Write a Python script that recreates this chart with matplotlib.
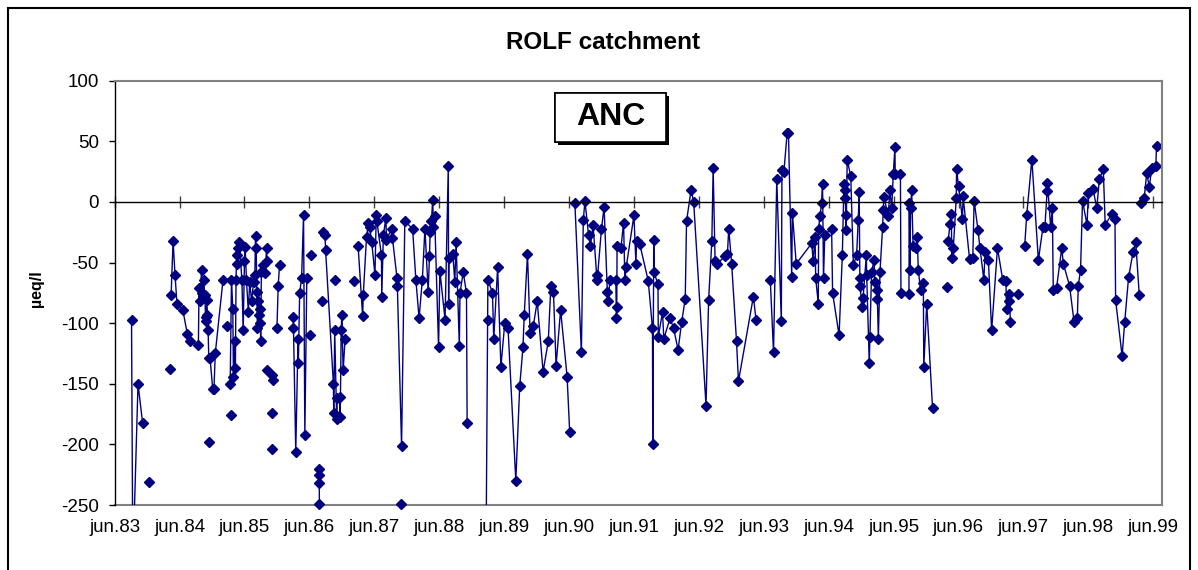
import numpy as np
import matplotlib.pyplot as plt
import matplotlib.patheffects as pe
from matplotlib.patches import Rectangle

plt.rcParams['font.family'] = ['Liberation Sans', 'DejaVu Sans']
plt.rcParams['axes.unicode_minus'] = False

# ANC in µeq/l, x = years after June 1983, gaps between segments
seg_a = [(0.26, -97), (0.28, -300), (0.36, -150), (0.43, -182)]
seg_b = [(0.87, -77), (0.90, -32), (0.93, -60), (0.96, -84), (1.05, -89), (1.12, -109),
         (1.16, -115), (1.29, -118), (1.30, -71), (1.31, -82), (1.34, -56), (1.35, -75),
         (1.37, -64), (1.39, -77), (1.40, -95), (1.41, -98), (1.42, -81), (1.43, -93),
         (1.44, -106), (1.45, -129), (1.47, -129), (1.51, -154), (1.53, -154), (1.55, -125),
         (1.67, -64)]
seg_c = [(1.78, -150), (1.80, -64), (1.82, -88), (1.83, -144), (1.85, -115), (1.86, -137),
         (1.87, -64), (1.88, -44), (1.89, -51), (1.90, -38), (1.92, -33), (1.96, -64),
         (1.98, -106), (2.00, -49), (2.01, -37), (2.03, -64), (2.06, -91), (2.08, -66),
         (2.11, -82), (2.14, -66), (2.16, -60), (2.17, -28), (2.18, -38), (2.19, -74),
         (2.20, -104), (2.21, -82), (2.22, -93), (2.24, -88), (2.245, -100), (2.25, -115),
         (2.26, -58), (2.29, -52), (2.32, -59), (2.34, -38), (2.35, -49)]
seg_d = [(2.34, -139), (2.42, -143), (2.44, -147)]
seg_e = [(2.50, -104), (2.52, -69), (2.54, -52)]
seg_f = [(2.75, -95), (2.755, -104), (2.79, -206), (2.825, -113), (2.83, -133), (2.85, -75),
         (2.88, -63), (2.91, -11), (2.93, -192), (2.96, -63)]
seg_g = [(3.148, -220), (3.15, -225), (3.152, -232), (3.154, -249)]
seg_h = [(3.21, -25), (3.24, -27), (3.25, -40), (3.37, -150), (3.375, -174), (3.39, -106),
         (3.42, -179), (3.43, -162), (3.47, -161), (3.475, -177), (3.49, -106), (3.50, -93),
         (3.52, -139), (3.55, -113)]
seg_i = [(3.75, -36), (3.82, -94), (3.83, -77), (3.88, -29), (3.91, -17), (3.93, -21),
         (3.96, -33), (4.01, -60), (4.03, -11), (4.04, -16), (4.11, -44), (4.115, -78),
         (4.14, -27), (4.18, -13), (4.185, -31), (4.27, -22), (4.28, -30), (4.35, -63),
         (4.355, -69), (4.42, -201), (4.47, -16), (4.59, -22), (4.64, -64), (4.69, -96),
         (4.74, -64), (4.78, -22), (4.83, -74), (4.85, -45), (4.86, -25), (4.88, -16),
         (4.90, 2), (4.91, -21), (4.93, -12), (4.99, -120), (5.01, -57), (5.09, -97),
         (5.14, 30), (5.145, -84), (5.15, -46), (5.21, -43), (5.24, -66), (5.26, -33),
         (5.31, -119), (5.32, -75), (5.37, -58), (5.42, -75), (5.43, -182)]
seg_j = [(5.72, -300), (5.745, -97), (5.75, -64), (5.82, -75), (5.84, -113), (5.90, -54),
         (5.95, -136), (6.01, -100), (6.06, -104), (6.18, -230), (6.24, -152), (6.29, -120),
         (6.31, -93), (6.36, -43), (6.40, -108), (6.45, -102), (6.51, -82), (6.60, -140),
         (6.68, -115), (6.72, -69), (6.76, -74), (6.80, -135), (6.87, -89), (6.97, -144),
         (7.01, -190)]
seg_k = [(7.09, -1), (7.19, -124), (7.22, -15), (7.245, 1), (7.30, -27), (7.33, -36),
         (7.37, -19), (7.425, -60), (7.435, -64), (7.50, -22), (7.54, -4), (7.59, -74),
         (7.605, -82), (7.63, -64), (7.72, -64), (7.73, -96), (7.735, -87), (7.74, -36),
         (7.80, -38), (7.84, -17), (7.86, -64), (7.88, -54), (8.00, -11), (8.03, -51),
         (8.04, -32), (8.09, -35), (8.22, -65), (8.285, -104), (8.29, -200), (8.305, -31),
         (8.31, -58), (8.37, -68), (8.375, -111), (8.44, -91), (8.46, -113), (8.555, -96),
         (8.61, -104), (8.68, -122), (8.735, -99), (8.79, -80), (8.81, -16), (8.88, 10),
         (8.92, 0), (9.11, -168), (9.15, -81), (9.20, -32), (9.22, 28), (9.25, -49),
         (9.28, -51), (9.40, -45), (9.44, -43), (9.46, -22), (9.505, -51), (9.58, -115),
         (9.61, -148), (9.84, -78), (9.88, -97)]
seg_l = [(10.10, -64), (10.15, -124), (10.20, 19), (10.27, -98), (10.28, 26), (10.31, 25),
         (10.36, 57), (10.38, 57), (10.43, -62), (10.44, -9), (10.50, -51), (10.74, -34),
         (10.76, -49), (10.79, -29), (10.80, -63), (10.84, -84), (10.845, -22), (10.865, -12),
         (10.89, -1), (10.905, 15), (10.92, -63), (10.94, -27), (11.045, -22), (11.06, -75),
         (11.16, -110), (11.21, -44), (11.235, 15), (11.25, 10), (11.255, 3), (11.265, -11),
         (11.27, -23), (11.285, 35), (11.34, 21), (11.38, -52), (11.43, -44), (11.455, -15),
         (11.47, 8), (11.48, -63), (11.485, -69), (11.51, -87), (11.53, -79), (11.58, -44),
         (11.585, -60), (11.625, -133), (11.635, -111), (11.66, -58), (11.70, -48),
         (11.71, -66), (11.74, -73), (11.75, -80), (11.765, -113), (11.79, -58), (11.83, -21),
         (11.84, -7), (11.85, 4), (11.92, -12), (11.94, 10), (11.97, -5), (11.995, 23),
         (12.02, 45), (12.025, 23), (12.105, 23), (12.113, -75), (12.236, -76), (12.242, -1),
         (12.25, -56), (12.262, -5), (12.278, 10), (12.30, -36), (12.345, -38), (12.365, -29),
         (12.38, -56), (12.416, -73), (12.458, -67), (12.465, -136), (12.51, -84), (12.60, -170)]
seg_n = [(12.84, -32), (12.87, -18), (12.89, -10), (12.895, -46), (12.92, -38), (12.965, 3),
         (12.97, 27), (13.00, 13), (13.06, -14), (13.07, 5), (13.17, -47), (13.22, -46),
         (13.24, 1), (13.30, -23), (13.33, -38), (13.39, -64), (13.41, -41), (13.46, -48),
         (13.51, -106), (13.60, -38), (13.68, -64), (13.73, -65), (13.74, -88), (13.77, -82),
         (13.78, -76), (13.80, -99)]
seg_o = [(14.02, -36), (14.05, -11), (14.13, 35), (14.23, -48), (14.30, -21), (14.33, -21),
         (14.365, 9), (14.37, 16), (14.42, -21), (14.445, -5), (14.46, -73), (14.51, -71),
         (14.59, -38), (14.615, -51), (14.71, -69), (14.78, -99), (14.83, -96), (14.845, -69),
         (14.88, -56), (14.91, 1), (14.98, -19), (15.00, 7), (15.07, 11), (15.13, -5),
         (15.17, 19), (15.23, 27), (15.26, -19), (15.36, -10), (15.41, -14), (15.42, -81),
         (15.52, -127), (15.56, -99), (15.62, -62), (15.69, -41), (15.73, -33), (15.785, -77)]
seg_p = [(15.81, -1), (15.86, 3), (15.90, 24), (15.94, 12), (15.975, 28), (16.04, 30),
         (16.05, 46)]
single_points = [(0.53, -231), (0.86, -138), (1.46, -198), (1.73, -102), (1.79, -176),
                 (2.42, -174), (2.42, -204), (3.01, -110), (3.03, -44), (3.20, -82),
                 (3.39, -64), (3.68, -65), (4.405, -249), (12.827, -70), (13.92, -76)]

tick_labels = ['jun.83', 'jun.84', 'jun.85', 'jun.86', 'jun.87', 'jun.88', 'jun.89',
               'jun.90', 'jun.91', 'jun.92', 'jun.93', 'jun.94', 'jun.95', 'jun.96',
               'jun.97', 'jun.98', 'jun.99']

segments = [seg_a, seg_b, seg_c, seg_d, seg_e, seg_f, seg_g, seg_h, seg_i, seg_j,
            seg_k, seg_l, seg_n, seg_o, seg_p] + [[p] for p in single_points]

xs, ys = [], []
for seg in segments:
    for t, v in seg:
        xs.append(t)
        ys.append(v)
    xs.append(np.nan)
    ys.append(np.nan)
xs = np.array(xs)
ys = np.array(ys)

navy = '#000080'
fig = plt.figure(figsize=(11.98, 5.70), dpi=100)
ax = fig.add_axes([0.0957, 0.114, 0.874, 0.7444])

ax.plot(xs, ys, color=navy, lw=1.0)
inside = ys >= -250
ax.plot(xs[inside], ys[inside], ls='none', marker='D', ms=4.8, color=navy, clip_on=False)

ax.set_xlim(0, 16.13)
ax.set_ylim(-250, 100)
ax.set_yticks(range(-250, 101, 50))
ax.tick_params(axis='y', direction='out', length=4.3, width=1, colors='black',
               labelsize=13.5, pad=7)

# category axis crosses at zero, labels stay at the bottom
ax.spines['bottom'].set_position(('data', 0))
ax.spines['bottom'].set_color('black')
ax.spines['bottom'].set_linewidth(1)
ax.set_xticks(range(len(tick_labels)))
ax.tick_params(axis='x', direction='inout', length=8.6, width=1, color='#404040',
               labelbottom=False)
for side in ['top', 'right']:
    ax.spines[side].set_color('#808080')
    ax.spines[side].set_linewidth(1.5)
ax.spines['left'].set_color('black')
ax.spines['left'].set_linewidth(1)

sec = ax.secondary_xaxis(0.0)
sec.set_xticks(range(len(tick_labels)), labels=tick_labels)
sec.tick_params(length=0, labelsize=13.5, pad=10)
sec.spines['bottom'].set_color('#808080')
sec.spines['bottom'].set_linewidth(1.5)

ax.set_ylabel('µeq/l', fontsize=11.5, fontweight='bold')
ax.yaxis.set_label_coords(-0.067, 0.51)

fig.text(0.503, 0.914, 'ROLF catchment', ha='center', va='baseline',
         fontsize=17.5, fontweight='bold')

box = Rectangle((0.4205, 0.8555), 0.1061, 0.1155, transform=ax.transAxes,
                facecolor='white', edgecolor='black', lw=1.2, zorder=5)
box.set_path_effects([pe.withSimplePatchShadow(offset=(2.2, -2.2), shadow_rgbFace='black',
                                               alpha=1.0), pe.Normal()])
ax.add_patch(box)
ax.text(0.4735, 0.914, 'ANC', transform=ax.transAxes, ha='center', va='center',
        fontsize=23, fontweight='bold', zorder=6)

frame = Rectangle((0.0067, -0.05), 0.9866, 1.036, transform=fig.transFigure,
                  fill=False, edgecolor='black', lw=1.5)
fig.add_artist(frame)

fig.savefig('out.png', dpi=100)
